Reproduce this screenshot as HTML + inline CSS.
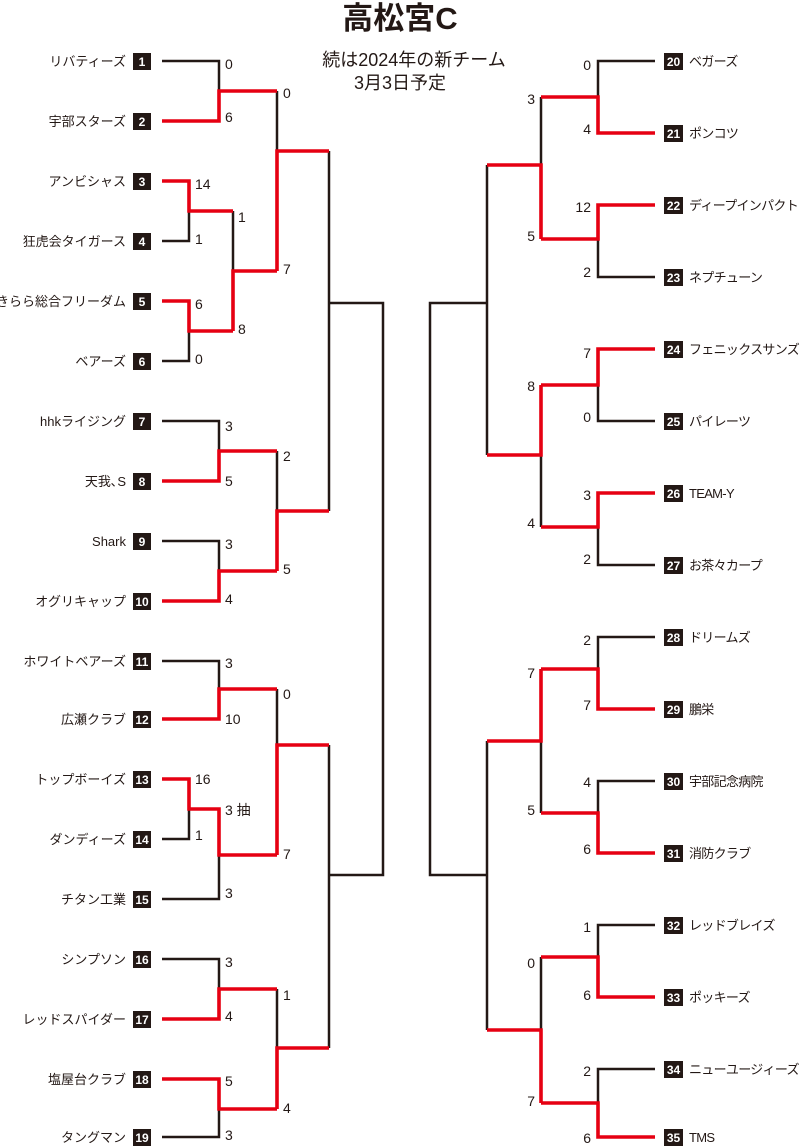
<!DOCTYPE html>
<html><head><meta charset="utf-8"><style>
html,body{margin:0;padding:0;background:#fff;}
svg{display:block;}
text{font-family:"Liberation Sans","Noto Sans CJK JP",sans-serif;fill:#231815;}
.n{font-size:13px;}
.r .n{letter-spacing:-0.7px;}
.s{font-size:14px;}
.bn{font-size:12px;font-weight:bold;fill:#fff;}
.B{fill:none;stroke:#231815;stroke-width:2.5;}
.R{fill:none;stroke:#e60012;stroke-width:3.6;}
</style></head><body>
<svg width="800" height="1148" viewBox="0 0 800 1148" xmlns="http://www.w3.org/2000/svg">
<text x="400" y="29" text-anchor="middle" style="font-size:31px;font-weight:bold">高松宮C</text>
<text x="414" y="66" text-anchor="middle" style="font-size:18px">続は2024年の新チーム</text>
<text x="400" y="89" text-anchor="middle" style="font-size:18px">3月3日予定</text>

<g class="B">
<polyline points="162,61 219,61 219,91"/>
<polyline points="162,241 189,241 189,211"/>
<polyline points="162,361 189,361 189,331"/>
<polyline points="233,211 233,271"/>
<polyline points="277,91 277,151"/>
<polyline points="162,421 219,421 219,451"/>
<polyline points="162,541 219,541 219,571"/>
<polyline points="277,451 277,511"/>
<polyline points="329,151 329,511"/>
<polyline points="329,303 383,303 383,875 329,875"/>
<polyline points="162,661 219,661 219,689"/>
<polyline points="162,839 189,839 189,809"/>
<polyline points="162,899 219,899 219,855"/>
<polyline points="277,689 277,745"/>
<polyline points="162,959 219,959 219,989"/>
<polyline points="162,1137 219,1137 219,1109"/>
<polyline points="277,989 277,1048"/>
<polyline points="329,745 329,1048"/>

<polyline points="655,61 598,61 598,97"/>
<polyline points="655,277 598,277 598,239"/>
<polyline points="541,97 541,165"/>
<polyline points="655,421 598,421 598,385"/>
<polyline points="655,565 598,565 598,527"/>
<polyline points="541,527 541,455"/>
<polyline points="487,165 487,455"/>
<polyline points="487,303 430,303 430,875 487,875"/>
<polyline points="655,637 598,637 598,669"/>
<polyline points="655,781 598,781 598,813"/>
<polyline points="541,813 541,741"/>
<polyline points="655,925 598,925 598,957"/>
<polyline points="655,1069 598,1069 598,1103"/>
<polyline points="541,957 541,1030"/>
<polyline points="487,741 487,1030"/>
</g>
<g class="R">
<polyline points="162,121 219,121 219,91 277,91"/>
<polyline points="162,181 189,181 189,211 233,211"/>
<polyline points="162,301 189,301 189,331 233,331"/>
<polyline points="233,331 233,271 277,271"/>
<polyline points="277,271 277,151 329,151"/>
<polyline points="162,481 219,481 219,451 277,451"/>
<polyline points="162,601 219,601 219,571 277,571"/>
<polyline points="277,571 277,511 329,511"/>
<polyline points="162,719 219,719 219,689 277,689"/>
<polyline points="162,779 189,779 189,809 219,809 219,855 277,855"/>
<polyline points="277,855 277,745 329,745"/>
<polyline points="162,1019 219,1019 219,989 277,989"/>
<polyline points="162,1079 219,1079 219,1109 277,1109"/>
<polyline points="277,1109 277,1048 329,1048"/>

<polyline points="655,133 598,133 598,97 541,97"/>
<polyline points="655,205 598,205 598,239 541,239"/>
<polyline points="541,239 541,165 487,165"/>
<polyline points="655,349 598,349 598,385 541,385"/>
<polyline points="655,493 598,493 598,527 541,527"/>
<polyline points="541,385 541,455 487,455"/>
<polyline points="655,709 598,709 598,669 541,669"/>
<polyline points="655,853 598,853 598,813 541,813"/>
<polyline points="541,669 541,741 487,741"/>
<polyline points="655,997 598,997 598,957 541,957"/>
<polyline points="655,1137 598,1137 598,1103 541,1103"/>
<polyline points="541,1103 541,1030 487,1030"/>
</g>

<g fill="#231815">
<rect x="133" y="53" width="18" height="17"/><rect x="133" y="113" width="18" height="17"/>
<rect x="133" y="173" width="18" height="17"/><rect x="133" y="233" width="18" height="17"/>
<rect x="133" y="293" width="18" height="17"/><rect x="133" y="353" width="18" height="17"/>
<rect x="133" y="413" width="18" height="17"/><rect x="133" y="473" width="18" height="17"/>
<rect x="133" y="533" width="18" height="17"/><rect x="133" y="593" width="18" height="17"/>
<rect x="133" y="653" width="18" height="17"/><rect x="133" y="711" width="18" height="17"/>
<rect x="133" y="771" width="18" height="17"/><rect x="133" y="831" width="18" height="17"/>
<rect x="133" y="891" width="18" height="17"/><rect x="133" y="951" width="18" height="17"/>
<rect x="133" y="1011" width="18" height="17"/><rect x="133" y="1071" width="18" height="17"/>
<rect x="133" y="1129" width="18" height="17"/>
<rect x="664" y="53" width="19" height="17"/><rect x="664" y="125" width="19" height="17"/>
<rect x="664" y="197" width="19" height="17"/><rect x="664" y="269" width="19" height="17"/>
<rect x="664" y="341" width="19" height="17"/><rect x="664" y="413" width="19" height="17"/>
<rect x="664" y="485" width="19" height="17"/><rect x="664" y="557" width="19" height="17"/>
<rect x="664" y="629" width="19" height="17"/><rect x="664" y="701" width="19" height="17"/>
<rect x="664" y="773" width="19" height="17"/><rect x="664" y="845" width="19" height="17"/>
<rect x="664" y="917" width="19" height="17"/><rect x="664" y="989" width="19" height="17"/>
<rect x="664" y="1061" width="19" height="17"/><rect x="664" y="1129" width="19" height="17"/>
</g>
<g text-anchor="middle">
<text class="bn" x="142" y="66">1</text><text class="bn" x="142" y="126">2</text>
<text class="bn" x="142" y="186">3</text><text class="bn" x="142" y="246">4</text>
<text class="bn" x="142" y="306">5</text><text class="bn" x="142" y="366">6</text>
<text class="bn" x="142" y="426">7</text><text class="bn" x="142" y="486">8</text>
<text class="bn" x="142" y="546">9</text><text class="bn" x="142" y="606">10</text>
<text class="bn" x="142" y="666">11</text><text class="bn" x="142" y="724">12</text>
<text class="bn" x="142" y="784">13</text><text class="bn" x="142" y="844">14</text>
<text class="bn" x="142" y="904">15</text><text class="bn" x="142" y="964">16</text>
<text class="bn" x="142" y="1024">17</text><text class="bn" x="142" y="1084">18</text>
<text class="bn" x="142" y="1142">19</text>
<text class="bn" x="673.5" y="66">20</text><text class="bn" x="673.5" y="138">21</text>
<text class="bn" x="673.5" y="210">22</text><text class="bn" x="673.5" y="282">23</text>
<text class="bn" x="673.5" y="354">24</text><text class="bn" x="673.5" y="426">25</text>
<text class="bn" x="673.5" y="498">26</text><text class="bn" x="673.5" y="570">27</text>
<text class="bn" x="673.5" y="642">28</text><text class="bn" x="673.5" y="714">29</text>
<text class="bn" x="673.5" y="786">30</text><text class="bn" x="673.5" y="858">31</text>
<text class="bn" x="673.5" y="930">32</text><text class="bn" x="673.5" y="1002">33</text>
<text class="bn" x="673.5" y="1074">34</text><text class="bn" x="673.5" y="1142">35</text>
</g>
<g text-anchor="end">
<text class="n" x="126" y="66">リバティーズ</text>
<text class="n" x="126" y="126">宇部スターズ</text>
<text class="n" x="126" y="186">アンビシャス</text>
<text class="n" x="126" y="246">狂虎会タイガース</text>
<text class="n" x="126" y="306">きらら総合フリーダム</text>
<text class="n" x="126" y="366">ベアーズ</text>
<text class="n" x="126" y="426">hhkライジング</text>
<text class="n" x="126" y="486">天我､S</text>
<text class="n" x="126" y="546">Shark</text>
<text class="n" x="126" y="606">オグリキャップ</text>
<text class="n" x="126" y="666">ホワイトベアーズ</text>
<text class="n" x="126" y="724">広瀬クラブ</text>
<text class="n" x="126" y="784">トップボーイズ</text>
<text class="n" x="126" y="844">ダンディーズ</text>
<text class="n" x="126" y="904">チタン工業</text>
<text class="n" x="126" y="964">シンプソン</text>
<text class="n" x="126" y="1024">レッドスパイダー</text>
<text class="n" x="126" y="1084">塩屋台クラブ</text>
<text class="n" x="126" y="1142">タングマン</text>
</g>
<g class="r">
<text class="n" x="689" y="66">ベガーズ</text>
<text class="n" x="689" y="138">ポンコツ</text>
<text class="n" x="689" y="210">ディープインパクト</text>
<text class="n" x="689" y="282">ネプチューン</text>
<text class="n" x="689" y="354">フェニックスサンズ</text>
<text class="n" x="689" y="426">パイレーツ</text>
<text class="n" x="689" y="498">TEAM-Y</text>
<text class="n" x="689" y="570">お茶々カープ</text>
<text class="n" x="689" y="642">ドリームズ</text>
<text class="n" x="689" y="714">鵬栄</text>
<text class="n" x="689" y="786">宇部記念病院</text>
<text class="n" x="689" y="858">消防クラブ</text>
<text class="n" x="689" y="930">レッドブレイズ</text>
<text class="n" x="689" y="1002">ポッキーズ</text>
<text class="n" x="689" y="1074">ニューユージィーズ</text>
<text class="n" x="689" y="1142">TMS</text>
</g>
<g>
<text class="s" x="225" y="69">0</text><text class="s" x="225" y="122">6</text>
<text class="s" x="283" y="98">0</text>
<text class="s" x="195" y="189">14</text><text class="s" x="195" y="244">1</text>
<text class="s" x="238" y="222">1</text>
<text class="s" x="195" y="309">6</text><text class="s" x="195" y="364">0</text>
<text class="s" x="238" y="334">8</text>
<text class="s" x="283" y="274">7</text>
<text class="s" x="225" y="431">3</text><text class="s" x="225" y="486">5</text>
<text class="s" x="283" y="461">2</text>
<text class="s" x="225" y="549">3</text><text class="s" x="225" y="604">4</text>
<text class="s" x="283" y="574">5</text>
<text class="s" x="225" y="668">3</text><text class="s" x="225" y="724">10</text>
<text class="s" x="283" y="699">0</text>
<text class="s" x="195" y="784">16</text><text class="s" x="195" y="840">1</text>
<text class="s" x="225" y="815">3 抽</text>
<text class="s" x="225" y="898">3</text>
<text class="s" x="283" y="859">7</text>
<text class="s" x="225" y="967">3</text><text class="s" x="225" y="1021">4</text>
<text class="s" x="283" y="1000">1</text>
<text class="s" x="225" y="1086">5</text><text class="s" x="225" y="1140">3</text>
<text class="s" x="283" y="1113">4</text>
</g>
<g text-anchor="end">
<text class="s" x="591" y="70">0</text><text class="s" x="591" y="134">4</text>
<text class="s" x="535" y="104">3</text>
<text class="s" x="591" y="212">12</text><text class="s" x="591" y="277">2</text>
<text class="s" x="535" y="241">5</text>
<text class="s" x="591" y="358">7</text><text class="s" x="591" y="422">0</text>
<text class="s" x="535" y="391">8</text>
<text class="s" x="591" y="500">3</text><text class="s" x="591" y="564">2</text>
<text class="s" x="535" y="528">4</text>
<text class="s" x="591" y="645">2</text><text class="s" x="591" y="710">7</text>
<text class="s" x="535" y="678">7</text>
<text class="s" x="591" y="787">4</text><text class="s" x="591" y="854">6</text>
<text class="s" x="535" y="815">5</text>
<text class="s" x="591" y="932">1</text><text class="s" x="591" y="1000">6</text>
<text class="s" x="535" y="968">0</text>
<text class="s" x="591" y="1076">2</text><text class="s" x="591" y="1143">6</text>
<text class="s" x="535" y="1106">7</text>
</g>
</svg>
</body></html>
